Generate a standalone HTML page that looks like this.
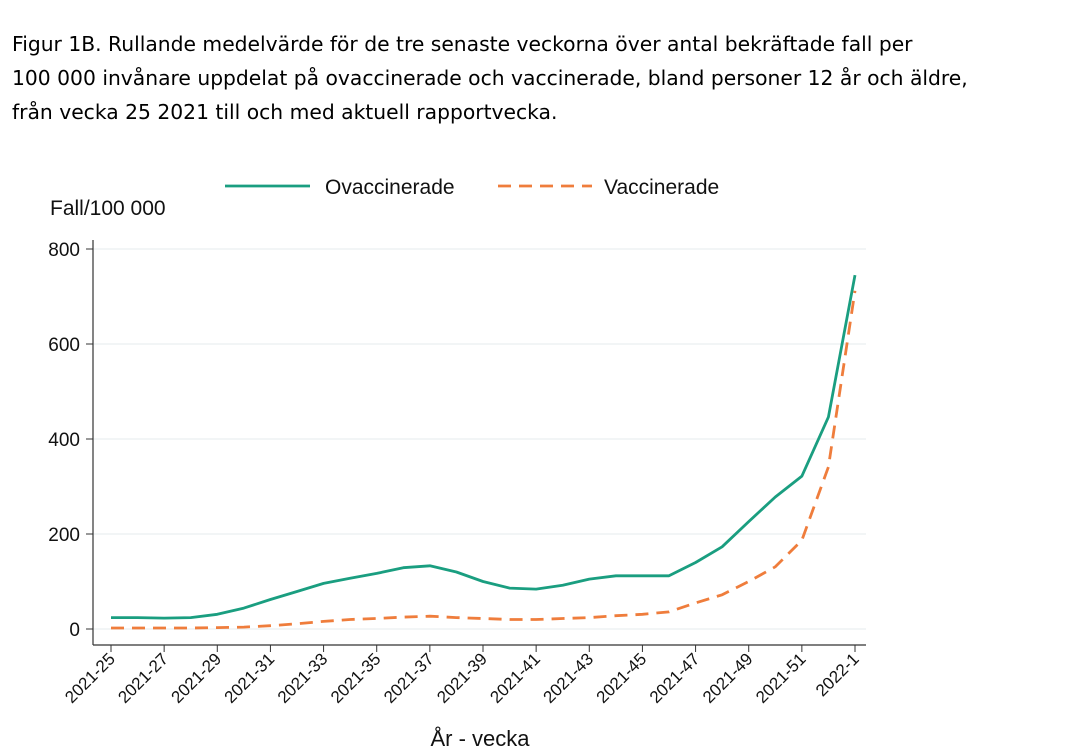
<!DOCTYPE html>
<html><head><meta charset="utf-8"><style>
body{margin:0;background:#fff;width:1082px;height:755px;overflow:hidden;font-family:"Liberation Sans",sans-serif}
#title{position:absolute;left:12px;top:27px;font-family:"DejaVu Sans",sans-serif;font-size:20.3px;line-height:34px;color:#000;white-space:nowrap}
</style></head><body>
<div id="title">Figur 1B. Rullande medelvärde för de tre senaste veckorna över antal bekräftade fall per<br>100 000 invånare uppdelat på ovaccinerade och vaccinerade, bland personer 12 år och äldre,<br>från vecka 25 2021 till och med aktuell rapportvecka.</div>
<svg id="chart" width="1082" height="755" style="position:absolute;left:0;top:0" xmlns="http://www.w3.org/2000/svg"></svg>
<script>
const categories=["2021-25","2021-26","2021-27","2021-28","2021-29","2021-30","2021-31","2021-32","2021-33","2021-34","2021-35","2021-36","2021-37","2021-38","2021-39","2021-40","2021-41","2021-42","2021-43","2021-44","2021-45","2021-46","2021-47","2021-48","2021-49","2021-50","2021-51","2021-52","2022-1"];
const ovaccinerade=[24,24,23,24,31,44,62,79,96,107,117,129,133,120,100,86,84,92,105,112,112,112,140,173,226,278,322,446,745];
const vaccinerade=[2,2,2,2,3,4,7,11,16,20,22,25,27,24,22,20,20,22,24,28,31,36,55,72,100,131,187,341,712];
const yTicks=[0,200,400,600,800];
const svg=document.getElementById('chart');const NS='http://www.w3.org/2000/svg';
function mk(t,a,p){const e=document.createElementNS(NS,t);for(const k in a)e.setAttribute(k,a[k]);(p||svg).appendChild(e);return e;}
const x=i=>111+i*(744/28);
const y=v=>629-v*(380/800);
yTicks.forEach(v=>{
 const g=mk('line',{x1:93,x2:866,y1:y(v),y2:y(v),stroke:'#eef2f3','stroke-width':1.5});
 
 const t=mk('line',{x1:86,x2:93,y1:y(v),y2:y(v),stroke:'#333'});
 
 const l=mk('text',{x:80,y:y(v)+7,'text-anchor':'end','font-size':19,fill:'#111'});l.textContent=v;
 
});
const ya=mk('line',{x1:93,x2:93,y1:240,y2:645,stroke:'#333','stroke-width':1.2});

const xa=mk('line',{x1:93,x2:866,y1:645,y2:645,stroke:'#333','stroke-width':1.2});

categories.forEach((c,i)=>{
 if(i%2)return;
 const t=mk('line',{x1:x(i),x2:x(i),y1:645,y2:652,stroke:'#333'});
 
 const l=mk('text',{x:x(i)+5,y:660,'text-anchor':'end','font-size':17,fill:'#111',transform:`rotate(-45 ${x(i)+5} 660)`});l.textContent=c;
 
});
function path(vals){return vals.map((v,i)=>(i?'L':'M')+x(i).toFixed(1)+','+y(v).toFixed(1)).join('');}
const p1=mk('path',{d:path(ovaccinerade),fill:'none',stroke:'#1a9e80','stroke-width':2.8,'stroke-linejoin':'round'});

const p2=mk('path',{d:path(vaccinerade),fill:'none',stroke:'#ef7d3c','stroke-width':2.8,'stroke-dasharray':'13,8'});

const yt=mk('text',{x:50,y:215,'font-size':21,fill:'#111'});yt.textContent='Fall/100 000';

const xt=mk('text',{x:480,y:746,'text-anchor':'middle','font-size':22,fill:'#111'});xt.textContent='År - vecka';

const l1=mk('line',{x1:225,x2:310,y1:186,y2:186,stroke:'#1a9e80','stroke-width':2.8});

const t1=mk('text',{x:325,y:194,'font-size':21,fill:'#111'});t1.textContent='Ovaccinerade';

const l2=mk('line',{x1:498,x2:592,y1:186,y2:186,stroke:'#ef7d3c','stroke-width':2.8,'stroke-dasharray':'13,8'});

const t2=mk('text',{x:604,y:194,'font-size':21,fill:'#111'});t2.textContent='Vaccinerade';

</script>
</body></html>
